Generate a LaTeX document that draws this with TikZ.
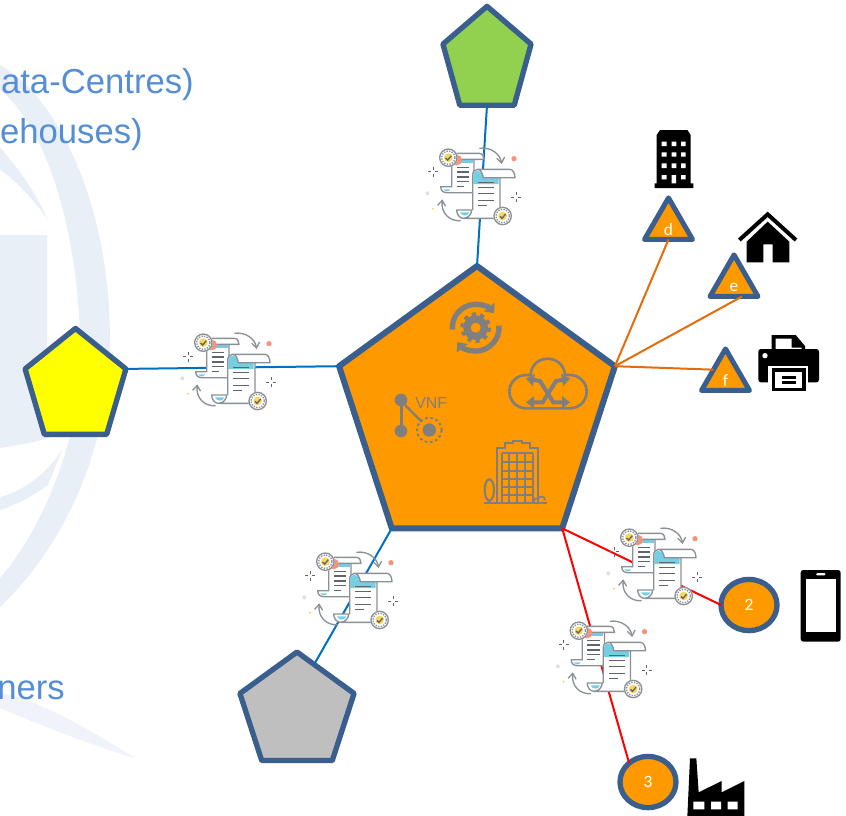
\documentclass[tikz,border=0pt]{standalone}
\usepackage{fontspec}
\setmainfont{Carlito}
\newfontfamily\arialfont{Liberation Sans}
\usetikzlibrary{calc,shapes.geometric,arrows.meta}
\definecolor{edgeblue}{HTML}{3A5F8E}
\definecolor{hubfill}{HTML}{FF9900}
\definecolor{greenfill}{HTML}{92D050}
\definecolor{yellowfill}{HTML}{FFFF00}
\definecolor{greyfill}{HTML}{BFBFBF}
\definecolor{iconfill}{HTML}{7F7F7F}
\definecolor{docgrey}{HTML}{8A9097}
\definecolor{docdark}{HTML}{5F656B}
\definecolor{docblue}{HTML}{74CFE3}
\definecolor{docgold}{HTML}{F9D65C}
\definecolor{docspot}{HTML}{F7937A}
\definecolor{markgrey}{HTML}{E9EFF7}
\definecolor{marklight}{HTML}{F0F3F9}
\definecolor{titleblue}{HTML}{558ED5}
\definecolor{linkorange}{HTML}{E46C0A}
\definecolor{linkblue}{HTML}{0070C0}
\definecolor{linkred}{HTML}{FF0000}
\tikzset{
pentagonbox/.style={regular polygon,regular polygon sides=5,draw=edgeblue,line width=4pt,line join=round,inner sep=0pt,outer sep=0pt,minimum size=#1,transform shape},
trianglebox/.style={regular polygon,regular polygon sides=3,draw=edgeblue,fill=hubfill,line width=3.75pt,line join=round,inner sep=0pt,outer sep=0pt,minimum size=41.6pt,transform shape,yscale=-1},
circlebox/.style={ellipse,draw=edgeblue,fill=hubfill,line width=4pt,inner sep=0pt,outer sep=0pt,minimum width=42pt,minimum height=38.4pt,text=white,font=\fontsize{13}{15}\selectfont},
titletext/.style={anchor=base east,inner sep=0pt,text=titleblue,font=\arialfont\fontsize{26}{30}\selectfont},
lettertext/.style={text=white,inner sep=0pt,font=\fontsize{13}{15}\selectfont},
pics/contract/.style={code={
\begin{scope}[scale=1/3,yscale=-1]
% back sheet
\fill[white] (122,170) -- (155,170) -- (155,95) -- (170,70) -- (250,70) -- (250,88) -- (222,88) -- (222,188) -- (135,188) -- cycle;
\fill[docblue] (168,90) rectangle (218,100);
\draw[docgrey,line width=1pt,line join=round] (155,172) -- (155,92) (170,70) -- (238,70) .. controls (248,70) and (252,80) .. (252,88) -- (178,88) (222,88) -- (222,188) -- (140,188) .. controls (130,188) and (122,182) .. (122,170) -- (155,170);
\fill[docblue] (130,178) -- (150,178) .. controls (148,186) and (134,186) .. (130,178) -- cycle;
\draw[docdark,line width=1pt] (170,112) -- (208,112) (170,126) -- (208,126) (170,141) -- (208,141) (170,155) -- (208,155) (170,169) -- (192,169);
% front sheet
\fill[white] (218,135) .. controls (218,125) and (225,118) .. (232,118) -- (330,118) .. controls (340,118) and (345,132) .. (345,143) -- (300,143) -- (300,265) -- (190,265) .. controls (178,265) and (170,252) .. (170,240) -- (218,240) -- cycle;
\fill[docblue] (220,135) .. controls (220,127) and (226,122) .. (232,122) .. controls (240,122) and (248,128) .. (250,143) -- (296,143) -- (296,162) -- (220,162) -- cycle;
\draw[docgrey,line width=1pt,line join=round] (218,240) -- (218,135) .. controls (218,125) and (225,118) .. (232,118) -- (330,118) .. controls (340,118) and (345,132) .. (345,143) -- (250,143) .. controls (248,130) and (242,118) .. (232,118) (300,143) -- (300,265) -- (190,265) .. controls (178,265) and (170,252) .. (170,240) -- (215,240) .. controls (215,252) and (205,265) .. (190,265);
\fill[docblue] (180,247) -- (208,247) .. controls (204,260) and (186,260) .. (180,247) -- cycle;
\draw[docdark,line width=1pt] (235,157) -- (282,157) (235,172) -- (282,172) (235,190) -- (282,190) (235,212) -- (282,212) (235,227) -- (262,227);
% arrows
\draw[docgrey,line width=1pt,-{Straight Barb[length=4pt,width=6pt]}] (238,55) .. controls (270,50) and (300,70) .. (305,102);
\draw[docgrey,line width=1pt,-{Straight Barb[length=4pt,width=6pt]}] (182,272) .. controls (150,275) and (122,250) .. (127,208);
% badges
\fill[docspot] (170,90) circle (16);
\fill[white] (145,83) circle (28);
\draw[docgrey,line width=1pt] (145,83) circle (26);
\draw[docgrey,line width=1pt,densely dotted] (145,83) circle (20);
\fill[docgold] (145,83) circle (13);
\draw[docdark,line width=1pt] (137,84) -- (143,90) -- (154,77);
\fill[white] (308,258) circle (28);
\draw[docgrey,line width=1pt] (308,258) circle (26);
\draw[docgrey,line width=1pt,densely dotted] (308,258) circle (20);
\fill[docgold] (308,258) circle (13);
\draw[docdark,line width=1pt] (300,259) -- (306,265) -- (317,252);
% sparks and dots
\draw[docdark,line width=0.6pt] (85,125) -- (94,125) (106,125) -- (115,125) (100,110) -- (100,119) (100,131) -- (100,140);
\draw[docdark,line width=0.6pt] (333,202) -- (342,202) (354,202) -- (363,202) (348,187) -- (348,196) (348,208) -- (348,217);
\fill[docspot] (342,86) circle (8);
\fill[black!12] (82,190) circle (6);
\fill[docgold] (99,236) circle (3.5);
\end{scope}
}}
}
\begin{document}
\begin{tikzpicture}[x=0.75pt,y=0.75pt,yscale=-1,xscale=1]
\useasboundingbox (0,0) rectangle (846,815);
\clip (0,0) rectangle (846,815);
% Backdrop mark
\fill[markgrey] (0,65) .. controls (55,95) and (110,200) .. (110,340) .. controls (110,440) and (70,540) .. (0,607) -- (0,578) .. controls (50,520) and (85,420) .. (80,340) .. controls (78,240) and (50,130) .. (0,90) -- cycle ;
\fill[markgrey] (0,147) .. controls (15,165) and (35,190) .. (48,220) .. controls (30,195) and (15,180) .. (0,170) -- cycle ;
\fill[markgrey] (0,235) -- (47,235) -- (47,350) -- (70,430) .. controls (50,440) and (20,445) .. (0,448) -- cycle ;
\fill[markgrey] (0,497) .. controls (25,490) and (45,475) .. (62,450) -- (48,485) .. controls (30,498) and (15,505) .. (0,510) -- cycle ;
\fill[marklight] (0,693) .. controls (40,700) and (90,730) .. (135,758) .. controls (90,745) and (40,725) .. (0,708) -- cycle ;
% Text Node
\node[titletext] (datatext) at (194,93) {ata-Centres)};
% Text Node
\node[titletext] (housetext) at (143,143) {ehouses)};
% Text Node
\node[titletext] (ownertext) at (65,699) {ners};
%Shape: Pentagon
\node[pentagonbox=69.5pt,fill=greenfill,yscale=-1.18] (greenpent) at (487,61) {};
%Shape: Pentagon
\node[pentagonbox=79.5pt,fill=yellowfill,yscale=-1.105] (yellowpent) at (75.5,387) {};
%Shape: Pentagon
\node[pentagonbox=90pt,fill=greyfill,yscale=-1] (greypent) at (297,712) {};
%Shape: Pentagon
\node[pentagonbox=217.5pt,fill=hubfill,line width=4.5pt,yscale=-1] (hubpent) at (477,411) {};
%Shape: Triangle
\node[trianglebox] (dtri) at (668.5,225.6) {};
%Shape: Triangle
\node[trianglebox] (etri) at (734,282.6) {};
%Shape: Triangle
\node[trianglebox] (ftri) at (725.5,376.6) {};
%Shape: Ellipse
\node[circlebox] (twocirc) at (749,605) {2};
%Shape: Ellipse
\node[circlebox] (threecirc) at (648,782) {3};
% Text Node
\node[lettertext] (dtext) at (668.5,230) {d};
% Text Node
\node[lettertext] (etext) at (734,287) {e};
% Text Node
\node[lettertext] (ftext) at (725.5,381) {f};
% Links
\draw[linkblue,line width=1.5pt] (hubpent.corner 1) -- (greenpent.side 3);
\draw[linkblue,line width=1.5pt] (hubpent.corner 2) -- (yellowpent.corner 5);
\draw[linkblue,line width=1.5pt] (hubpent.corner 3) -- ($(greypent.corner 1)!0.3!(greypent.corner 5)$);
\draw[linkred,line width=1.5pt] (hubpent.corner 4) -- (twocirc.west);
\draw[linkred,line width=1.5pt] (hubpent.corner 4) -- (threecirc.135);
\draw[linkorange,line width=1.5pt] (hubpent.corner 5) -- (dtri.side 2);
\draw[linkorange,line width=1.5pt] (hubpent.corner 5) -- ($(etri.corner 2)!0.667!(etri.corner 3)$);
\draw[linkorange,line width=1.5pt] (hubpent.corner 5) -- (ftri.side 1);
% Contract icons
\pic (topdoc) at (400,130) {contract};
\pic (leftdoc) at (155,315) {contract};
\pic (lowdoc) at (277,534) {contract};
\pic (rightdoc) at (581,510) {contract};
\pic (belowdoc) at (530.5,603) {contract};
% Cycle icon
\begin{scope}[shift={(370,280)},scale=1/3]
\draw[iconfill,line width=4pt,-{Triangle[length=6pt,width=10pt]}] (317,143) ++(175:70) arc (175:322:70);
\draw[iconfill,line width=4pt,-{Triangle[length=6pt,width=10pt]}] (317,143) ++(-5:70) arc (-5:142:70);
\draw[iconfill,line width=5.5pt] (317,143) circle (26);
\draw[iconfill,line width=3pt,dash pattern=on 3.1pt off 3.2pt] (317,143) circle (40);
% VNF icon
\fill[iconfill] (93,360) circle (19) (93,453) circle (19) (178,450) circle (20);
\draw[iconfill,line width=2.25pt] (93,360) -- (93,453);
\draw[iconfill,line width=1.8pt] (105,375) -- (155,425);
\draw[iconfill,line width=1.5pt,dash pattern=on 2pt off 2pt] (178,450) circle (37);
\node[anchor=base west,inner sep=0pt,text=iconfill,font=\arialfont\fontsize{12}{14}\selectfont] (vnftext) at (135,386) {VNF};
% Cloud icon
\draw[iconfill,line width=2pt] (468,385) arc (90:270:50) -- (482,285) .. controls (485,220) and (580,220) .. (585,285) -- (600,285) arc (270:450:50) -- cycle;
\draw[iconfill,line width=3pt,{Triangle[length=6pt,width=9pt]}-{Triangle[length=6pt,width=9pt]}] (468,296) -- (510,303) -- (550,367) -- (600,367);
\draw[iconfill,line width=3pt,{Triangle[length=6pt,width=9pt]}-{Triangle[length=6pt,width=9pt]}] (600,296) -- (558,303) -- (518,367) -- (468,367);
% Office icon
\draw[iconfill,line width=1.6pt,line join=miter] (382,668) -- (382,503) -- (405,503) -- (405,490) -- (430,490) -- (430,484) -- (455,484) -- (455,490) -- (480,490) -- (480,503) -- (505,503) -- (505,668);
\draw[iconfill,line width=1.6pt] (395,518) -- (490,518) (395,545) -- (490,545) (395,572) -- (490,572) (395,597) -- (490,597) (395,622) -- (490,622) (395,645) -- (490,645) (395,518) -- (395,668) (417,518) -- (417,668) (440,518) -- (440,668) (465,518) -- (465,668) (490,518) -- (490,668) (342,668) -- (530,668) (358,660) -- (358,668);
\draw[iconfill,line width=1.6pt] (358,630) ellipse (14 and 32);
\draw[iconfill,line width=1.3pt] (492,665) .. controls (490,655) and (500,655) .. (505,655) .. controls (512,645) and (525,650) .. (525,660);
\end{scope}
% Tower icon
\begin{scope}[shift={(630,120)},scale=1/3]
\fill (90,30) -- (172,30) -- (182,45) -- (182,190) -- (190,190) -- (190,204) -- (74,204) -- (74,190) -- (80,190) -- (80,45) -- cycle;
\fill[white] (95,65) rectangle (110,78) (125,65) rectangle (139,78) (153,65) rectangle (167,78) (95,97) rectangle (110,110) (125,97) rectangle (139,110) (153,97) rectangle (167,110) (95,130) rectangle (110,144) (125,130) rectangle (139,144) (153,130) rectangle (167,144) (95,165) rectangle (110,178) (125,165) rectangle (138,190) (153,165) rectangle (167,178);
% House icon
\draw[line width=3pt,line join=miter] (328,360) -- (413,283) -- (498,360);
\fill (413,305) -- (478,365) -- (478,427) -- (428,427) -- (428,373) -- (400,373) -- (400,427) -- (350,427) -- (350,365) -- cycle;
% Printer icon
\fill (425,645) -- (497,645) -- (525,678) -- (525,690) -- (425,690) -- cycle;
\fill[white] (437,656) -- (485,656) -- (485,683) -- (515,683) -- (515,705) -- (437,705) -- cycle;
\fill[rounded corners=2pt] (385,687) rectangle (567,787);
\fill[white] (405,707) circle (8);
\fill[white] (415,738) rectangle (533,790);
\fill (425,745) rectangle (527,812);
\fill[white] (435,757) rectangle (517,803);
\fill (455,767) rectangle (497,793);
\fill[white] (455,777) rectangle (497,783);
\end{scope}
% Phone icon
\begin{scope}[shift={(600,550)},scale=1/3]
\fill[rounded corners=2pt] (602,60) rectangle (722,275);
\fill[white] (617,88) rectangle (707,247);
\fill[white,rounded corners=1pt] (648,69) rectangle (677,76);
% Factory icon
\fill (262,800) -- (270,625) -- (289,625) -- (296,727) -- (365,693) -- (365,727) -- (433,693) -- (433,800) -- cycle;
\fill[white] (280,755) rectangle (313,778) (333,755) rectangle (363,778) (383,755) rectangle (413,778);
\end{scope}
\end{tikzpicture}
\end{document}
